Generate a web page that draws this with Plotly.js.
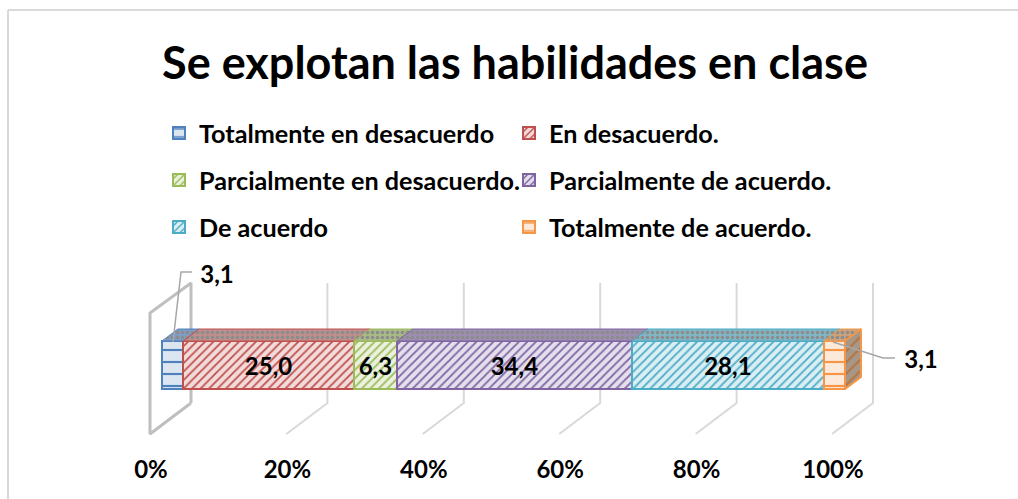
<!DOCTYPE html>
<html><head><meta charset="utf-8">
<script src="https://cdn.plot.ly/plotly-3.0.1.min.js"></script>
<style>html,body{margin:0;padding:0;background:#fff}</style></head>
<body><div id="chart" style="width:1018px;height:499px"></div>
<script>
var categories = ['Totalmente en desacuerdo','En desacuerdo.','Parcialmente en desacuerdo.','Parcialmente de acuerdo.','De acuerdo','Totalmente de acuerdo.'];
var values = [3.1,25.0,6.3,34.4,28.1,3.1];
var tickValues = [0,20,40,60,80,100];
var tickLabels = ['0%','20%','40%','60%','80%','100%'];
var lineColors = ['#4F81BD','#C0504D','#9BBB59','#8064A2','#4BACC6','#F79646'];
var paleColors = ['#DCE6F1','#F2DCDB','#EBF1DE','#E4DFEC','#DAEEF3','#FDE9D9'];
var topColors = ['#7F9DC4','#C08F8D','#A9BB85','#9D8DB2','#7FB6C5','#CBA27A'];
var patterns = ['-','/','/','/','/','-'];
var titleText = 'Se explotan las habilidades en clase';

var FONT = 'Lato, Carlito, Calibri, sans-serif';
var W = 1018, H = 499;
var plotL = 100, plotR = 950, plotT = 260, plotB = 453;
var wallScale = 6.82, wallX0 = 151, barScale = 6.83, barX0 = 162;
function range(x0, s){ return [(plotL-x0)/s, (plotR-x0)/s]; }
function yv(py){ return plotB-py; }
function wx(px){ return (px-wallX0)/wallScale; }
function bx(px){ return (px-barX0)/barScale; }

var traces = [];
tickValues.forEach(function(t,i){
  var s = t*wallScale;
  var xs = [wx(150+s), wx(191+s), wx(191+s)], ys = [yv(434), yv(403), yv(283)];
  if(i===0){ xs = [wx(191),wx(150),wx(150),wx(191),wx(191)]; ys=[yv(403),yv(434),yv(313),yv(283),yv(403)]; }
  traces.push({type:'scatter',mode:'lines',x:xs,y:ys,xaxis:'x',yaxis:'y',showlegend:false,hoverinfo:'skip',
    line:{color:i===0?'#BFBFBF':'#D9D9D9',width:i===0?3:2}});
});
values.forEach(function(v,i){
  traces.push({type:'bar',orientation:'h',name:categories[i],x:[v],y:[yv(365)],width:[48],xaxis:'x2',yaxis:'y',
    legend: i<2?'legend':(i<4?'legend2':'legend3'),
    marker:{color:paleColors[i],line:{color:lineColors[i],width:2},
      pattern:{shape:patterns[i],fgcolor:lineColors[i],bgcolor:paleColors[i],size:patterns[i]==='-'?12:6,solidity:patterns[i]==='-'?0.18:0.3}},
    text:[(i===0||i===5)?'':v.toFixed(1).replace('.',',')],textposition:'inside',insidetextanchor:'middle',constraintext:'none',
    textangle:0,textfont:{family:FONT,size:24,color:'#000',weight:'bold'},hoverinfo:'name+x'});
});
var cum = 0, D = 16, U = 12;
values.forEach(function(v,i){
  var a = cum, b = cum+v; cum = b;
  var dx = D/barScale;
  traces.push({type:'scatter',mode:'lines',x:[a,a+dx,b+dx,b,a],y:[yv(341),yv(341-U),yv(341-U),yv(341),yv(341)],
    xaxis:'x2',yaxis:'y',fill:'toself',fillcolor:topColors[i],
    fillpattern:{shape:'.',fgcolor:'#8C8C8C',bgcolor:topColors[i],size:5,solidity:0.4},
    line:{color:lineColors[i],width:1},showlegend:false,hoverinfo:'skip'});
  if(i===values.length-1){
    traces.push({type:'scatter',mode:'lines',x:[b,b+dx,b+dx,b,b],y:[yv(341),yv(341-U),yv(389-U),yv(389),yv(341)],
      xaxis:'x2',yaxis:'y',fill:'toself',fillcolor:'#A69788',
      fillpattern:{shape:'/',fgcolor:'#B9733C',bgcolor:'#A69788',size:8,solidity:0.25},
      line:{color:lineColors[i],width:2},showlegend:false,hoverinfo:'skip'});
  }
});
traces.push({type:'scatter',mode:'lines',x:[bx(173),bx(181),bx(192)],y:[yv(342),yv(272),yv(272)],xaxis:'x2',yaxis:'y',
  line:{color:'#A6A6A6',width:1.5},showlegend:false,hoverinfo:'skip'});
traces.push({type:'scatter',mode:'lines',x:[bx(833),bx(883),bx(895)],y:[yv(342),yv(358),yv(358)],xaxis:'x2',yaxis:'y',
  line:{color:'#A6A6A6',width:1.5},showlegend:false,hoverinfo:'skip'});
traces.push({type:'scatter',mode:'text',x:[bx(217),bx(921)],y:[yv(277),yv(362)],xaxis:'x2',yaxis:'y',
  text:[values[0].toFixed(1).replace('.',','),values[5].toFixed(1).replace('.',',')],textposition:'middle center',
  textfont:{family:FONT,size:24,color:'#000',weight:'bold'},showlegend:false,hoverinfo:'skip'});

function legendAt(py){
  return {orientation:'h',x:(159-plotL)/(plotR-plotL),xref:'paper',xanchor:'left',y:1-(py)/H,yref:'container',yanchor:'middle',
    entrywidth:305,entrywidthmode:'pixels',bgcolor:'rgba(0,0,0,0)',borderwidth:0,traceorder:'normal',
    font:{family:FONT,size:25.2,color:'#000',weight:'bold'}};
}
var layout = {
  width:W,height:H,paper_bgcolor:'#fff',plot_bgcolor:'rgba(0,0,0,0)',
  margin:{l:plotL,r:W-plotR,t:plotT,b:H-plotB,pad:0},
  barmode:'stack',showlegend:true,
  title:{text:titleText,x:515/W,xanchor:'center',y:1-63/H,yanchor:'middle',font:{family:FONT,size:45,color:'#000',weight:'bold'}},
  xaxis:{range:range(wallX0,wallScale),tickmode:'array',tickvals:tickValues,ticktext:tickLabels,showgrid:false,zeroline:false,showline:false,
    ticks:'',fixedrange:true,tickfont:{family:FONT,size:24,color:'#000',weight:'bold'}},
  xaxis2:{range:range(barX0,barScale),overlaying:'x',visible:false,fixedrange:true},
  yaxis:{range:[0,plotB-plotT],visible:false,fixedrange:true},
  legend:legendAt(133),legend2:legendAt(180),legend3:legendAt(227),
  shapes:[{type:'line',xref:'paper',yref:'paper',layer:'below',x0:(8-plotL)/(plotR-plotL),x1:(1018-plotL)/(plotR-plotL),
      y0:(plotB-10)/(plotB-plotT),y1:(plotB-10)/(plotB-plotT),line:{color:'#D9D9D9',width:2}},
    {type:'line',xref:'paper',yref:'paper',layer:'below',x0:(8-plotL)/(plotR-plotL),x1:(8-plotL)/(plotR-plotL),
      y0:(plotB-499)/(plotB-plotT),y1:(plotB-10)/(plotB-plotT),line:{color:'#D9D9D9',width:2}}]
};
Plotly.newPlot('chart',traces,layout,{displayModeBar:false,responsive:false});
</script></body></html>
